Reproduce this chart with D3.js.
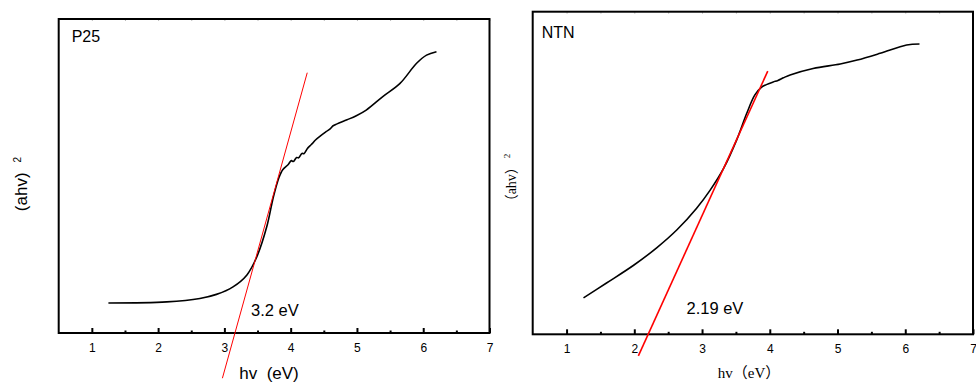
<!DOCTYPE html>
<html>
<head>
<meta charset="utf-8">
<script src="https://cdn.jsdelivr.net/npm/d3@7"></script>
<style>
  html, body { margin: 0; padding: 0; background: #fff; }
  svg { display: block; }
  text { white-space: pre; }
</style>
</head>
<body>
<svg id="chart" width="976" height="383"></svg>
<script>
// ---------- data ----------
const xTickValues = [1, 2, 3, 4, 5, 6, 7];
const xMinorTicks = [1.5, 2.5, 3.5, 4.5, 5.5, 6.5];

// P25 Tauc curve (hv in eV, (ahv)^2 in arbitrary units)
const p25X = [1.25, 2.13, 2.63, 2.88, 3.13, 3.34, 3.49, 3.64, 3.74, 3.82, 3.88, 3.96, 4.01, 4.04, 4.09, 4.12, 4.17, 4.2, 4.25, 4.29, 4.33, 4.37, 4.45, 4.54, 4.6, 4.64, 4.7, 4.85, 4.99, 5.14, 5.39, 5.65, 5.9, 6.05, 6.2];
const p25Y = [9.55, 9.9, 11.0, 12.3, 14.7, 18.5, 24.3, 33.9, 43.4, 49.3, 52.0, 53.6, 54.9, 54.6, 55.9, 55.8, 57.2, 57.1, 58.7, 59.6, 60.4, 61.4, 62.8, 64.2, 65.1, 66.0, 66.6, 67.9, 69.2, 71.0, 75.3, 79.5, 85.9, 88.5, 89.6];
const p25FitX = [2.97, 4.25];
const p25FitY = [-14.4, 82.9];

// NTN Tauc curve
const ntnX = [1.25, 1.59, 1.99, 2.33, 2.63, 2.92, 3.12, 3.32, 3.51, 3.66, 3.78, 3.88, 3.95, 4.05, 4.12, 4.2, 4.3, 4.64, 5.04, 5.29, 5.63, 6.02, 6.21];
const ntnY = [11.3, 15.9, 21.4, 26.8, 32.4, 39.1, 44.7, 51.5, 60.2, 68.5, 74.2, 76.6, 77.4, 78.2, 78.7, 79.5, 80.4, 82.4, 83.8, 85.0, 87.1, 89.7, 90.0];
const ntnFitX = [2.06, 3.97];
const ntnFitY = [-6.7, 81.6];

// ---------- drawing ----------
const svg = d3.select("#chart");

function panel(cfg) {
  const g = svg.append("g");
  const x = d3.scaleLinear().domain([0.5, 7]).range([cfg.left, cfg.right]);
  const y = d3.scaleLinear().domain([0, 100]).range([cfg.bottom, cfg.top]);

  // faint top ticks
  const topAxis = d3.axisTop(x).tickValues(xTickValues.concat(xMinorTicks)).tickSize(-2).tickFormat("");
  const ta = g.append("g").attr("transform", `translate(0,${cfg.top})`).call(topAxis);
  ta.select(".domain").remove();
  ta.selectAll("line").attr("stroke", "#bbb").attr("stroke-width", 1);

  // frame
  g.append("rect")
    .attr("x", cfg.left).attr("y", cfg.top)
    .attr("width", cfg.right - cfg.left).attr("height", cfg.bottom - cfg.top)
    .attr("fill", "none").attr("stroke", "#000").attr("stroke-width", 2);

  // bottom axis: major ticks inside
  const major = d3.axisBottom(x).tickValues(xTickValues).tickSize(-5).tickPadding(10).tickFormat(d3.format("d"));
  const ax = g.append("g").attr("transform", `translate(0,${cfg.bottom})`).call(major);
  ax.select(".domain").remove();
  ax.selectAll("line").attr("stroke", "#000").attr("stroke-width", 2);
  ax.selectAll("text").attr("font-family", "Liberation Sans, Arial, sans-serif").attr("font-size", 12).attr("fill", "#000")
    .attr("y", 10);
  const minor = d3.axisBottom(x).tickValues(xMinorTicks).tickSize(-2.5).tickFormat("");
  const mx = g.append("g").attr("transform", `translate(0,${cfg.bottom})`).call(minor);
  mx.select(".domain").remove();
  mx.selectAll("line").attr("stroke", "#000").attr("stroke-width", 2);

  // curve
  const line = d3.line().x(d => x(d[0])).y(d => y(d[1])).curve(d3.curveCatmullRom.alpha(0.5));
  g.append("path")
    .datum(d3.zip(cfg.dataX, cfg.dataY))
    .attr("d", line)
    .attr("fill", "none").attr("stroke", "#000").attr("stroke-width", cfg.curveWidth)
    .attr("stroke-linejoin", "round");

  // fit line (not clipped)
  g.append("path")
    .datum(d3.zip(cfg.fitX, cfg.fitY))
    .attr("d", d3.line().x(d => x(d[0])).y(d => y(d[1])))
    .attr("fill", "none").attr("stroke", "#ff0000").attr("stroke-width", cfg.fitWidth);

  // sample name
  g.append("text").attr("x", cfg.left + cfg.nameDx).attr("y", cfg.top + cfg.nameDy)
    .attr("font-family", "Liberation Sans, Arial, sans-serif").attr("font-size", 16)
    .attr("fill", "#000").text(cfg.name);

  // gap label
  g.append("text").attr("x", cfg.gapX).attr("y", cfg.gapY)
    .attr("font-family", "Liberation Sans, Arial, sans-serif").attr("font-size", 16.5)
    .attr("fill", "#000").text(cfg.gapLabel);

  // x title (parts so brackets may use a different font)
  const xt = g.append("text").attr("x", cfg.xTitleX).attr("y", cfg.xTitleY)
    .attr("text-anchor", "middle")
    .attr("font-family", cfg.titleFont).attr("font-size", cfg.xTitleSize)
    .attr("fill", "#000");
  cfg.xTitleParts.forEach(p => xt.append("tspan").attr("font-family", p.cjk ? cfg.bracketFont : cfg.titleFont).text(p.t));

  // y title
  const yt = g.append("text")
    .attr("transform", `translate(${cfg.yTitleX},${cfg.yTitleY}) rotate(-90)`)
    .attr("text-anchor", "middle")
    .attr("font-family", cfg.titleFont).attr("font-size", cfg.yTitleSize)
    .attr("fill", "#000");
  cfg.yTitleParts.forEach(p => yt.append("tspan").attr("font-family", p.cjk ? cfg.bracketFont : cfg.titleFont).text(p.t));
  yt.append("tspan").attr("dx", cfg.supDx).attr("dy", cfg.supDy).attr("font-size", cfg.supSize).text("2");
}

panel({
  left: 58.7, right: 489.5, top: 19, bottom: 333,
  dataX: p25X, dataY: p25Y, fitX: p25FitX, fitY: p25FitY,
  curveWidth: 1.6, fitWidth: 1,
  name: "P25", nameDx: 13, nameDy: 23,
  gapLabel: "3.2 eV", gapX: 251, gapY: 316,
  xTitleParts: [{t: "hv  (eV)"}], xTitleX: 269, xTitleY: 379, xTitleSize: 17,
  titleFont: "Liberation Sans, Arial, sans-serif", bracketFont: "Liberation Sans, Arial, sans-serif",
  yTitleParts: [{t: "(ahv)"}], yTitleX: 27, yTitleY: 184, yTitleSize: 17,
  supDx: 10, supDy: -6, supSize: 10
});

panel({
  left: 532.7, right: 973, top: 11.7, bottom: 334.3,
  dataX: ntnX, dataY: ntnY, fitX: ntnFitX, fitY: ntnFitY,
  curveWidth: 1.6, fitWidth: 1.6,
  name: "NTN", nameDx: 9, nameDy: 26,
  gapLabel: "2.19 eV", gapX: 686.5, gapY: 314,
  xTitleParts: [{t: "hv"}, {t: "（", cjk: true}, {t: "eV"}, {t: "）", cjk: true}], xTitleX: 749, xTitleY: 378, xTitleSize: 15,
  titleFont: "Liberation Serif, serif", bracketFont: "Noto Sans CJK SC",
  yTitleParts: [{t: "（", cjk: true}, {t: "ahv"}, {t: "）", cjk: true}], yTitleX: 516, yTitleY: 181, yTitleSize: 14,
  supDx: 2, supDy: -6, supSize: 9
});
</script>
</body>
</html>
